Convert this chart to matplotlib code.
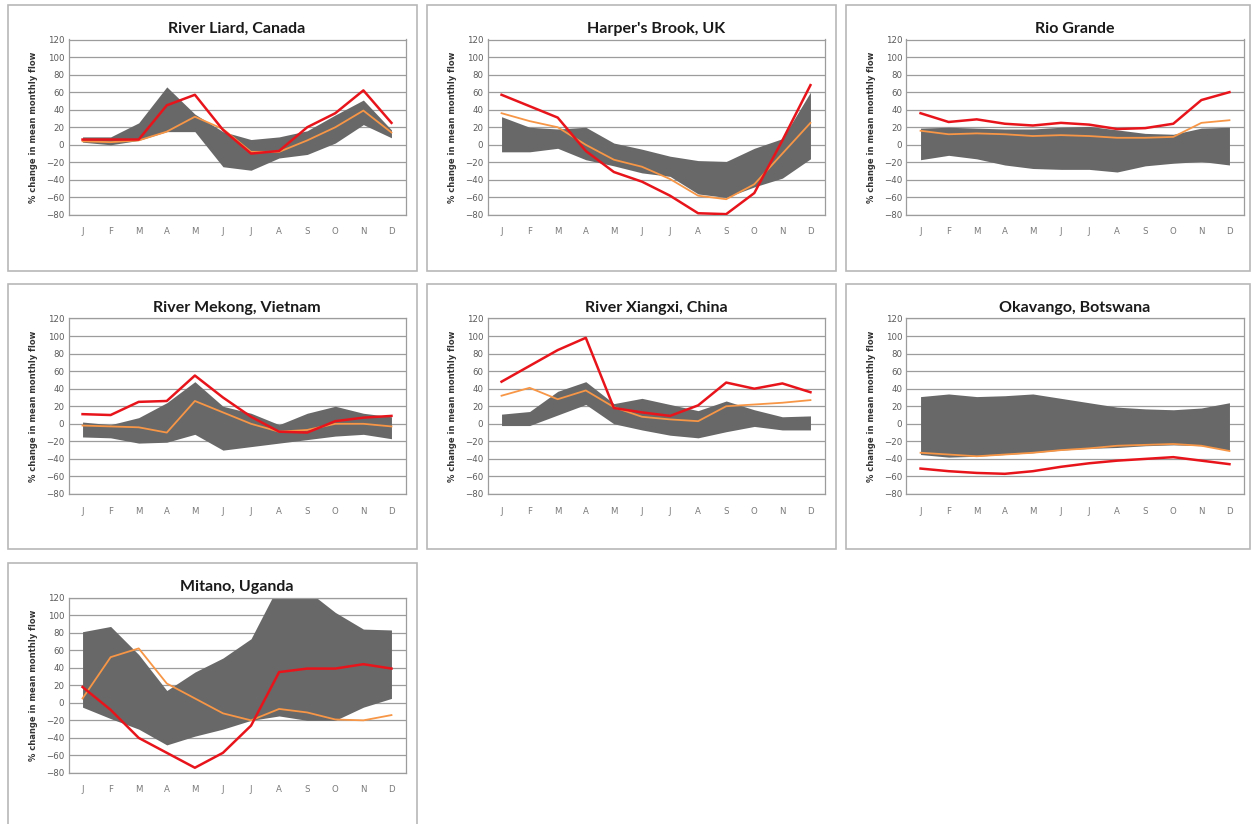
import matplotlib
matplotlib.use('Agg')
import matplotlib.pyplot as plt
from matplotlib.patches import Rectangle
import numpy as np

months = ['J', 'F', 'M', 'A', 'M', 'J', 'J', 'A', 'S', 'O', 'N', 'D']

titles = ['River Liard, Canada', "Harper's Brook, UK", 'Rio Grande',
          'River Mekong, Vietnam', 'River Xiangxi, China', 'Okavango, Botswana',
          'Mitano, Uganda']

# red line (one scenario), orange line (ensemble mean), grey band (range)
liard_red = [6, 6, 6, 45, 57, 17, -10, -7, 20, 36, 62, 25]
liard_orange = [4, 3, 5, 15, 32, 18, -8, -8, 5, 20, 39, 14]
liard_hi = [9, 9, 25, 66, 35, 15, 6, 9, 16, 34, 51, 17]
liard_lo = [3, 0, 5, 15, 15, -25, -29, -15, -11, 2, 23, 8]

harper_red = [57, 44, 31, -7, -31, -42, -58, -78, -79, -55, 5, 68]
harper_orange = [36, 27, 20, 0, -17, -25, -39, -58, -62, -45, -10, 25]
harper_hi = [32, 20, 18, 20, 2, -5, -13, -18, -19, -4, 7, 60]
harper_lo = [-8, -8, -4, -17, -24, -32, -36, -56, -60, -48, -38, -16]

rio_red = [36, 26, 29, 24, 22, 25, 23, 18, 19, 24, 51, 60]
rio_orange = [16, 12, 13, 12, 10, 11, 10, 8, 8, 9, 25, 28]
rio_hi = [19, 20, 19, 18, 18, 20, 21, 17, 13, 12, 19, 20]
rio_lo = [-17, -12, -16, -23, -27, -28, -28, -31, -24, -21, -19, -23]

mekong_red = [11, 10, 25, 26, 55, 30, 8, -9, -10, 3, 7, 9]
mekong_orange = [-2, -3, -4, -10, 26, 13, 0, -9, -7, 0, 0, -3]
mekong_hi = [2, -1, 7, 24, 48, 20, 12, -1, 12, 20, 12, 8]
mekong_lo = [-15, -16, -22, -21, -12, -30, -26, -22, -18, -14, -12, -17]

xiangxi_red = [48, 66, 84, 98, 18, 13, 9, 21, 47, 40, 46, 36]
xiangxi_orange = [32, 41, 28, 38, 19, 8, 5, 3, 20, 22, 24, 27]
xiangxi_hi = [11, 14, 37, 48, 23, 29, 22, 15, 26, 16, 8, 9]
xiangxi_lo = [-2, -2, 10, 22, 0, -7, -13, -16, -9, -3, -7, -7]

okavango_red = [-51, -54, -56, -57, -54, -49, -45, -42, -40, -38, -42, -46]
okavango_orange = [-33, -35, -37, -35, -33, -30, -28, -25, -24, -23, -25, -31]
okavango_hi = [31, 34, 31, 32, 34, 29, 24, 19, 17, 16, 18, 24]
okavango_lo = [-35, -38, -37, -35, -33, -30, -28, -27, -25, -24, -25, -30]

mitano_red = [18, -8, -40, -57, -74, -57, -26, 35, 39, 39, 44, 39]
mitano_orange = [5, 52, 62, 22, 5, -12, -20, -7, -11, -19, -20, -14]
mitano_hi = [81, 87, 55, 14, 35, 51, 73, 135, 128, 103, 84, 83]
mitano_lo = [-5, -18, -30, -48, -38, -30, -20, -15, -20, -20, -5, 5]

series = [
    (liard_red, liard_orange, liard_hi, liard_lo),
    (harper_red, harper_orange, harper_hi, harper_lo),
    (rio_red, rio_orange, rio_hi, rio_lo),
    (mekong_red, mekong_orange, mekong_hi, mekong_lo),
    (xiangxi_red, xiangxi_orange, xiangxi_hi, xiangxi_lo),
    (okavango_red, okavango_orange, okavango_hi, okavango_lo),
    (mitano_red, mitano_orange, mitano_hi, mitano_lo),
]

W, H = 1252, 824
fig = plt.figure(figsize=(W / 100, H / 100), dpi=100)
fig.patch.set_facecolor('white')

# panel boxes in pixel coords (left, top, right, bottom)
col_x = [(7.5, 416.5), (426.5, 836), (845.5, 1250)]
row_y = [(5, 270.5), (284, 549), (563, 830)]

x = np.arange(12)

for i, (red, orange, hi, lo) in enumerate(series):
    r, c = divmod(i, 3)
    x0, x1 = col_x[c]
    y0, y1 = row_y[r]
    fig.patches.append(Rectangle((x0 / W, 1 - y1 / H), (x1 - x0) / W, (y1 - y0) / H,
                                 transform=fig.transFigure, fill=False,
                                 edgecolor='#b8b8b8', linewidth=1.2))

    # plot area
    ax_l = x0 + 61
    ax_t = y0 + 34.5
    ax = fig.add_axes([ax_l / W, 1 - (ax_t + 175.5) / H, 337 / W, 175.5 / H])
    ax.set_xlim(-0.5, 11.5)
    ax.set_ylim(-80, 120)

    ax.fill_between(x, lo, hi, color='#686868', linewidth=0, zorder=2)
    ax.plot(x, orange, color='#f79646', linewidth=1.3, zorder=3)
    ax.plot(x, red, color='#e8141b', linewidth=1.8, zorder=4)

    ax.set_yticks(range(-80, 121, 20))
    ax.set_xticks(x)
    ax.set_xticklabels(months)
    ax.grid(axis='y', color='#9c9c9c', linewidth=0.9, zorder=1)
    ax.tick_params(axis='y', length=0, labelsize=6.2, colors='#5a5a5a', pad=3)
    ax.tick_params(axis='x', length=0, labelsize=6.2, colors='#7a7a7a', pad=9)
    for s in ax.spines.values():
        s.set_color('#9c9c9c')
        s.set_linewidth(0.9)
    ax.set_ylabel('% change in mean monthly flow', fontsize=6, fontweight='bold',
                  color='#333333', labelpad=6)
    ax.set_title(titles[i], fontsize=11.5, fontweight='bold', family='Lato',
                 color='#1a1a1a', pad=5)

fig.savefig('out.png', dpi=100, facecolor='white')
